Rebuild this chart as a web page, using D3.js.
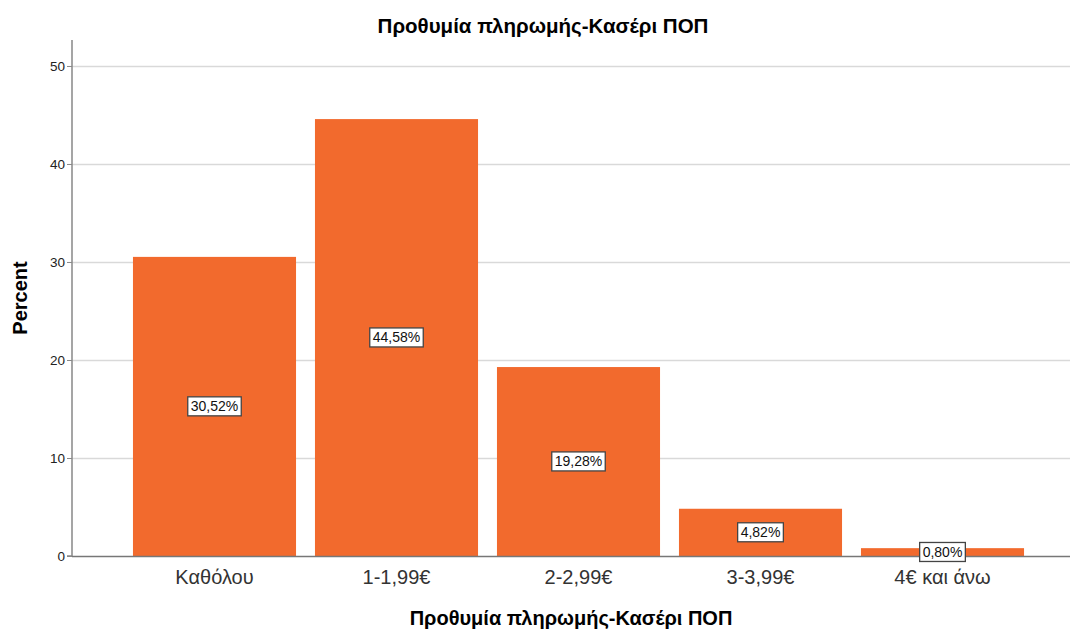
<!DOCTYPE html>
<html>
<head>
<meta charset="utf-8">
<script src="https://cdn.jsdelivr.net/npm/d3@7"></script>
<style>
  body { margin: 0; background: #fff; }
  text { font-family: "Liberation Sans", Arial, sans-serif; }
</style>
</head>
<body>
<svg id="chart" width="1071" height="630"></svg>
<script>
const categories = ["Καθόλου", "1-1,99€", "2-2,99€", "3-3,99€", "4€ και άνω"];
const percents   = [30.52, 44.58, 19.28, 4.82, 0.80];
const yTicks     = [0, 10, 20, 30, 40, 50];
const labels     = ["30,52%", "44,58%", "19,28%", "4,82%", "0,80%"];

const chartTitle = "Προθυμία πληρωμής-Κασέρι ΠΟΠ";
const xTitle     = "Προθυμία πληρωμής-Κασέρι ΠΟΠ";
const yTitle     = "Percent";

const plotLeft   = 72;
const plotRight  = 1070;
const plotTop    = 40;
const plotBottom = 556;

const svg = d3.select("#chart");

const y = d3.scaleLinear().domain([0, 52.65]).range([plotBottom, plotTop]);
const x = d3.scaleBand()
  .domain(categories)
  .range([123.5, 1033.5])
  .paddingInner(0.104)
  .paddingOuter(0.052);

// gridlines
svg.append("g")
  .selectAll("line")
  .data(yTicks.filter(d => d > 0))
  .join("line")
  .attr("x1", plotLeft).attr("x2", plotRight)
  .attr("y1", d => Math.round(y(d)) + 0.5).attr("y2", d => Math.round(y(d)) + 0.5)
  .attr("stroke", "#d9d9d9")
  .attr("stroke-width", 1.5);

// bars
const rows = categories.map((c, i) => ({cat: c, value: percents[i], label: labels[i]}));

svg.append("g")
  .selectAll("rect")
  .data(rows)
  .join("rect")
  .attr("x", d => x(d.cat))
  .attr("width", x.bandwidth())
  .attr("y", d => y(d.value))
  .attr("height", d => plotBottom - y(d.value))
  .attr("fill", "#f26a2d");

// y axis
const yAxis = svg.append("g")
  .attr("transform", `translate(${plotLeft},0)`)
  .call(d3.axisLeft(y).tickValues(yTicks).tickSize(5).tickFormat(d3.format("d")));
yAxis.select(".domain").attr("d", `M-5,${plotBottom}H0V${plotTop}`).attr("stroke", "#888").attr("stroke-width", 1.5);
yAxis.selectAll(".tick line").attr("stroke", "#888");
yAxis.selectAll(".tick text")
  .attr("x", -7)
  .attr("fill", "#222")
  .style("font-size", "13.5px");

// x axis
const xAxis = svg.append("g")
  .attr("transform", `translate(0,${plotBottom})`)
  .call(d3.axisBottom(x).tickSize(0));
xAxis.select(".domain").attr("d", `M${plotLeft},0.5H${plotRight}`).attr("stroke", "#777").attr("stroke-width", 1.5);
xAxis.selectAll(".tick text")
  .attr("y", 14)
  .attr("fill", "#333")
  .style("font-size", "20px");

// value labels
const lab = svg.append("g")
  .selectAll("g")
  .data(rows)
  .join("g")
  .attr("transform", d => `translate(${x(d.cat) + x.bandwidth() / 2},${y(d.value / 2)})`);

lab.append("text")
  .attr("text-anchor", "middle")
  .attr("dy", "0.35em")
  .attr("fill", "#111")
  .style("font-size", "14px")
  .text(d => d.label);

lab.each(function() {
  const g = d3.select(this);
  const bb = g.select("text").node().getBBox();
  g.insert("rect", "text")
    .attr("x", bb.x - 3)
    .attr("y", bb.y - 1.5)
    .attr("width", bb.width + 6)
    .attr("height", bb.height + 3)
    .attr("fill", "#fff")
    .attr("stroke", "#444")
    .attr("stroke-width", 1.3);
});

// titles
svg.append("text")
  .attr("x", 543).attr("y", 33)
  .attr("text-anchor", "middle")
  .style("font-size", "20.5px")
  .style("font-weight", "bold")
  .text(chartTitle);

svg.append("text")
  .attr("x", (plotLeft + plotRight) / 2).attr("y", 625)
  .attr("text-anchor", "middle")
  .style("font-size", "20px")
  .style("font-weight", "bold")
  .text(xTitle);

svg.append("text")
  .attr("transform", `translate(27,298) rotate(-90)`)
  .attr("text-anchor", "middle")
  .style("font-size", "20px")
  .style("font-weight", "bold")
  .text(yTitle);
</script>
</body>
</html>
